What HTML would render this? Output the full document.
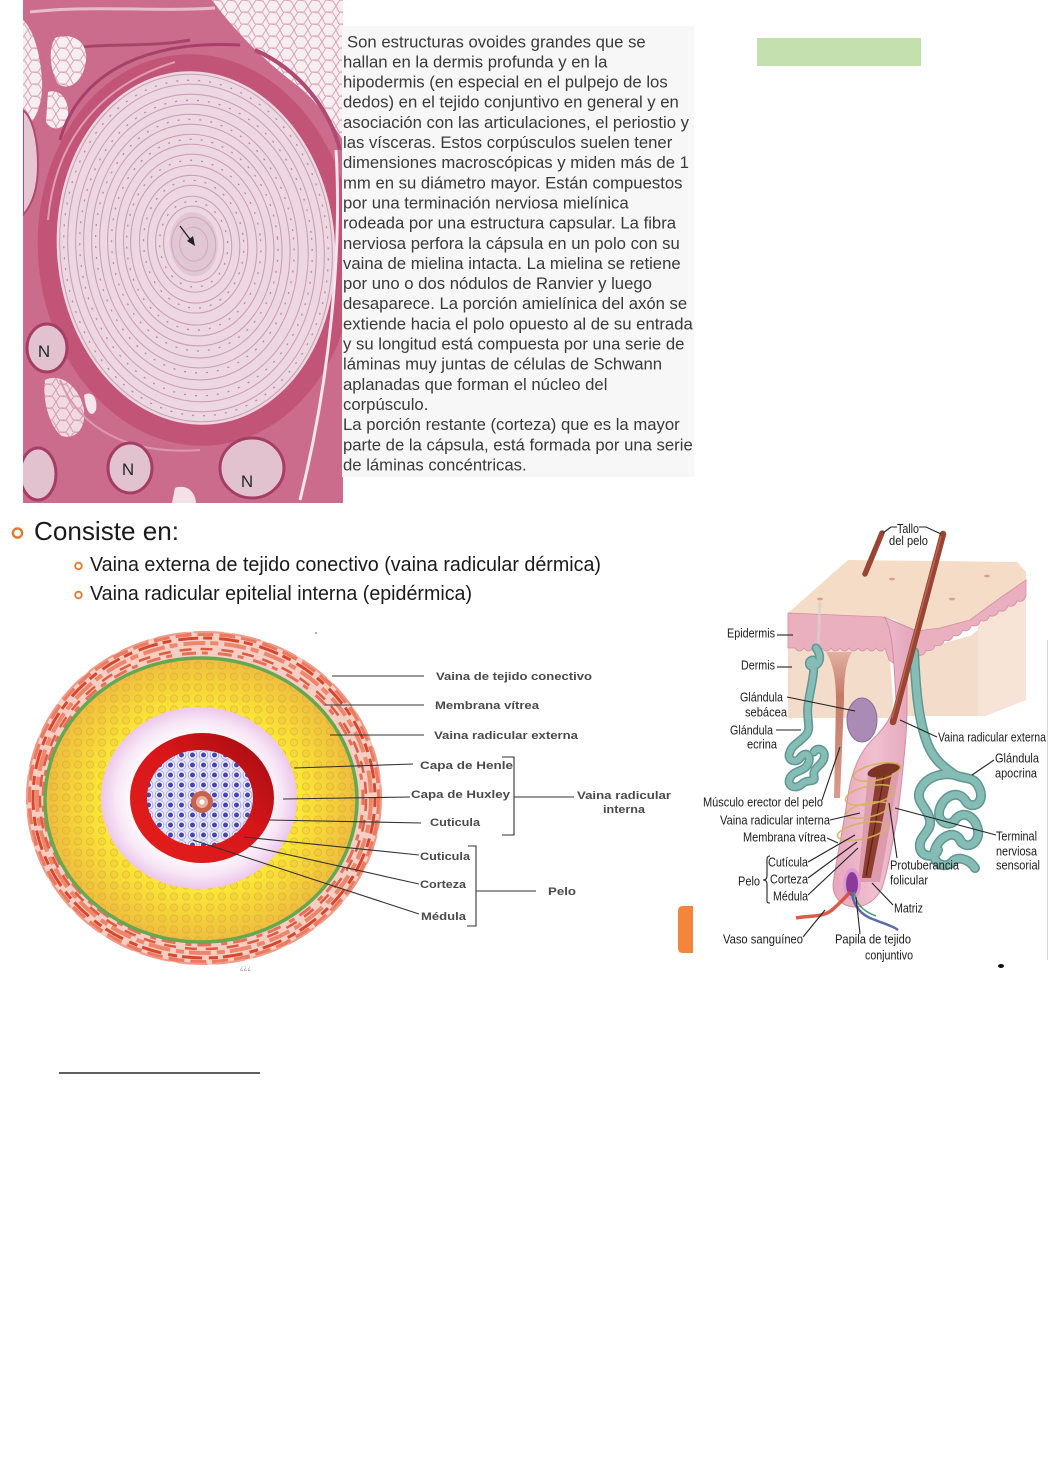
<!DOCTYPE html>
<html><head><meta charset="utf-8">
<style>
html,body{margin:0;padding:0;background:#fff;}
svg{display:block;}
text{font-family:"Liberation Sans",Arial,sans-serif;}
</style></head>
<body>
<svg width="1050" height="1463" viewBox="0 0 1050 1463" xmlns="http://www.w3.org/2000/svg">
<defs>
  <clipPath id="hc"><rect x="23" y="0" width="320" height="503"/></clipPath>
  <pattern id="fat" width="14" height="12" patternUnits="userSpaceOnUse">
    <rect width="14" height="12" fill="#f7eef2"/>
    <path d="M0,6 L4,0 M4,0 L11,1 L14,6 L10,12 L3,12 L0,6" fill="none" stroke="#dba3b6" stroke-width="1"/>
  </pattern>
  <pattern id="ydots" width="12" height="11" patternUnits="userSpaceOnUse">
    <circle cx="6" cy="5.5" r="3.6" fill="#e8b040" fill-opacity="0.22" stroke="#d8922e" stroke-width="0.8" stroke-opacity="0.45"/>
  </pattern>
  <pattern id="bdots" width="11" height="10" patternUnits="userSpaceOnUse">
    <rect width="11" height="10" fill="#e6e4f8"/>
    <circle cx="5.5" cy="5" r="4.4" fill="#f6f4ff" stroke="#9c98e0" stroke-width="0.8"/>
    <circle cx="5.5" cy="5" r="2.5" fill="#4444b8"/>
  </pattern>
  <radialGradient id="yg" cx="0.5" cy="0.5" r="0.5">
    <stop offset="0.6" stop-color="#fbec36"/>
    <stop offset="0.85" stop-color="#f3d03a"/>
    <stop offset="1" stop-color="#eebd40"/>
  </radialGradient>
  <radialGradient id="pg" cx="0.5" cy="0.5" r="0.5">
    <stop offset="0.65" stop-color="#ffffff"/>
    <stop offset="0.85" stop-color="#f8e6f6"/>
    <stop offset="1" stop-color="#ecc8ea"/>
  </radialGradient>
  <linearGradient id="rg" x1="1" y1="0" x2="0" y2="1">
    <stop offset="0" stop-color="#9e0c10"/>
    <stop offset="0.45" stop-color="#d8161a"/>
    <stop offset="1" stop-color="#e4201c"/>
  </linearGradient>
  <linearGradient id="mg" x1="0" y1="0" x2="0" y2="1">
    <stop offset="0" stop-color="#e2b0a0"/>
    <stop offset="0.3" stop-color="#c47a68"/>
    <stop offset="1" stop-color="#d89a8c"/>
  </linearGradient>
  <linearGradient id="fg" x1="0" y1="0" x2="1" y2="0">
    <stop offset="0" stop-color="#e6a6bc"/>
    <stop offset="0.5" stop-color="#f0c0d0"/>
    <stop offset="1" stop-color="#e2a2b8"/>
  </linearGradient>
</defs>

<rect width="1050" height="1463" fill="#ffffff"/>

<!-- ============ HISTOLOGY ============ -->
<g clip-path="url(#hc)">
  <rect x="23" y="0" width="320" height="503" fill="#cc6c8c"/>
  <!-- top-right fat -->
  <path d="M212,0 L343,0 L343,140 C330,120 315,100 298,86 C270,65 240,38 212,0 Z" fill="url(#fat)"/>
  <!-- top streaks -->
  <path d="M30,12 C90,5 160,12 215,8" stroke="#e8bccb" stroke-width="3" fill="none"/>
  <path d="M60,50 C100,42 150,48 190,40" stroke="#a84468" stroke-width="3" fill="none"/>
  <!-- small fat pockets top-left -->
  <path d="M55,38 C70,32 88,40 86,60 C84,80 70,92 58,84 C50,70 48,50 55,38 Z" fill="url(#fat)"/>
  <path d="M48,92 C60,88 70,100 68,118 C64,130 52,132 46,122 Z" fill="url(#fat)"/>
  <!-- left fat column -->
  <path d="M23,20 C32,28 40,50 42,80 C43,100 38,120 23,130 Z" fill="url(#fat)"/>
  <path d="M23,110 C33,118 38,140 38,165 C38,190 32,205 23,215 Z" fill="#e6c6d2" stroke="#b04a6e" stroke-width="2"/>
  <!-- lower-left fat -->
  <path d="M45,380 C62,372 80,388 84,410 C86,428 76,440 62,436 C50,428 42,400 45,380 Z" fill="url(#fat)" opacity="0.85"/>
  <path d="M84,395 C92,390 98,398 96,410 C92,418 86,414 84,395 Z" fill="#f4e6ec"/>
  <path d="M175,488 C185,484 195,490 196,503 L172,503 Z" fill="#f2e2e8"/>
  <!-- capsule band -->
  <ellipse cx="196" cy="250" rx="158" ry="196" fill="#c25478" transform="rotate(-5 196 250)"/>
  <path d="M60,140 C80,70 150,40 240,45" stroke="#a8406a" stroke-width="3" fill="none"/>
  <path d="M48,220 C55,140 100,85 175,62" stroke="#df9cb4" stroke-width="2" fill="none"/>
  <path d="M255,50 C300,70 330,110 340,150" stroke="#b04a70" stroke-width="4" fill="none"/>
  <path d="M60,380 C80,430 130,455 200,450" stroke="#dc98b0" stroke-width="2" fill="none"/>
  <!-- corpuscle -->
  <g transform="rotate(-5 196 248)">
    <ellipse cx="196" cy="248" rx="139" ry="177" fill="#edd8e2"/>
    <g fill="none" stroke="#c895b0" stroke-width="1.1" opacity="0.85">
      <ellipse cx="196" cy="248" rx="136" ry="174"/>
      <ellipse cx="196" cy="248" rx="128" ry="164"/>
      <ellipse cx="196" cy="248" rx="120" ry="154"/>
      <ellipse cx="196" cy="247" rx="112" ry="143"/>
      <ellipse cx="195" cy="247" rx="103" ry="133"/>
      <ellipse cx="195" cy="246" rx="95" ry="122"/>
      <ellipse cx="195" cy="246" rx="87" ry="112"/>
      <ellipse cx="195" cy="245" rx="79" ry="101"/>
      <ellipse cx="195" cy="245" rx="71" ry="91"/>
      <ellipse cx="194" cy="245" rx="63" ry="80"/>
      <ellipse cx="194" cy="244" rx="54" ry="69"/>
      <ellipse cx="194" cy="244" rx="46" ry="59"/>
      <ellipse cx="194" cy="244" rx="38" ry="48"/>
      <ellipse cx="194" cy="244" rx="30" ry="38"/>
      <ellipse cx="194" cy="244" rx="22" ry="27"/>
      <ellipse cx="194" cy="244" rx="14" ry="17"/>
    </g>
    <g fill="none" stroke="#8c5a78" stroke-width="1.3" stroke-dasharray="2 9" opacity="0.6">
      <ellipse cx="196" cy="248" rx="132" ry="168"/>
      <ellipse cx="196" cy="248" rx="116" ry="148"/>
      <ellipse cx="195" cy="246" rx="99" ry="127"/>
      <ellipse cx="195" cy="245" rx="83" ry="106"/>
      <ellipse cx="194" cy="245" rx="67" ry="85"/>
      <ellipse cx="194" cy="244" rx="50" ry="64"/>
      <ellipse cx="194" cy="244" rx="34" ry="43"/>
    </g>
    <ellipse cx="194" cy="244" rx="24" ry="32" fill="#d6b4c6" opacity="0.5"/>
  </g>
  <!-- right white crack -->
  <path d="M336,150 C342,250 330,380 300,500" stroke="#f4e6ec" stroke-width="3" fill="none"/>
  <!-- arrow -->
  <line x1="180" y1="226" x2="192" y2="242" stroke="#222" stroke-width="1.3"/>
  <polygon points="195,246 187,241 193,236" fill="#222"/>
  <!-- nerves -->
  <ellipse cx="47" cy="348" rx="20" ry="24" fill="#e2c2ce" stroke="#a43e66" stroke-width="3"/>
  <ellipse cx="130" cy="468" rx="22" ry="25" fill="#e2c2ce" stroke="#a43e66" stroke-width="3"/>
  <ellipse cx="252" cy="468" rx="32" ry="30" fill="#e2c2ce" stroke="#a43e66" stroke-width="3"/>
  <ellipse cx="38" cy="474" rx="18" ry="26" fill="#e2c2ce" stroke="#a43e66" stroke-width="3"/>
  <text x="44" y="357" font-size="17" fill="#1e2a2a" text-anchor="middle">N</text>
  <text x="128" y="475" font-size="17" fill="#1e2a2a" text-anchor="middle">N</text>
  <text x="247" y="487" font-size="17" fill="#1e2a2a" text-anchor="middle">N</text>
</g>

<!-- ============ PARAGRAPH ============ -->
<rect x="342" y="26" width="352" height="451" fill="#f7f7f7"/>
<g font-size="16.7" fill="#3a3a3a">
  <text x="347" y="47.3">Son estructuras ovoides grandes que se</text>
  <text x="343" y="67.4">hallan en la dermis profunda y en la</text>
  <text x="343" y="87.6">hipodermis (en especial en el pulpejo de los</text>
  <text x="343" y="107.7">dedos) en el tejido conjuntivo en general y en</text>
  <text x="343" y="127.9">asociación con las articulaciones, el periostio y</text>
  <text x="343" y="148.0">las vísceras. Estos corpúsculos suelen tener</text>
  <text x="343" y="168.2">dimensiones macroscópicas y miden más de 1</text>
  <text x="343" y="188.3">mm en su diámetro mayor. Están compuestos</text>
  <text x="343" y="208.5">por una terminación nerviosa mielínica</text>
  <text x="343" y="228.6">rodeada por una estructura capsular. La fibra</text>
  <text x="343" y="248.8">nerviosa perfora la cápsula en un polo con su</text>
  <text x="343" y="268.9">vaina de mielina intacta. La mielina se retiene</text>
  <text x="343" y="289.1">por uno o dos nódulos de Ranvier y luego</text>
  <text x="343" y="309.2">desaparece. La porción amielínica del axón se</text>
  <text x="343" y="329.4">extiende hacia el polo opuesto al de su entrada</text>
  <text x="343" y="349.5">y su longitud está compuesta por una serie de</text>
  <text x="343" y="369.7">láminas muy juntas de células de Schwann</text>
  <text x="343" y="389.8">aplanadas que forman el núcleo del</text>
  <text x="343" y="410.0">corpúsculo.</text>
  <text x="343" y="430.1">La porción restante (corteza) que es la mayor</text>
  <text x="343" y="450.3">parte de la cápsula, está formada por una serie</text>
  <text x="343" y="470.4">de láminas concéntricas.</text>
</g>

<!-- green rect -->
<rect x="757" y="38" width="164" height="28" fill="#c4e0ae"/>

<!-- ============ CONSISTE EN ============ -->
<circle cx="17.5" cy="533" r="4.6" fill="none" stroke="#e07a30" stroke-width="2.4"/>
<text x="34" y="540" font-size="26" fill="#1a1a1a" textLength="145" lengthAdjust="spacingAndGlyphs">Consiste en:</text>
<circle cx="78.5" cy="566" r="3.3" fill="none" stroke="#e07a30" stroke-width="1.8"/>
<text x="90" y="571" font-size="20.5" fill="#1a1a1a" textLength="511" lengthAdjust="spacingAndGlyphs">Vaina externa de tejido conectivo (vaina radicular dérmica)</text>
<circle cx="78.5" cy="595" r="3.3" fill="none" stroke="#e07a30" stroke-width="1.8"/>
<text x="90" y="600" font-size="20.5" fill="#1a1a1a" textLength="382" lengthAdjust="spacingAndGlyphs">Vaina radicular epitelial interna (epidérmica)</text>

<!-- ============ CROSS SECTION ============ -->
<g>
  <ellipse cx="204" cy="798" rx="178" ry="167" fill="#f6cfc4"/>
  <g fill="none">
    <ellipse cx="204" cy="798" rx="175" ry="164" stroke="#ec7a62" stroke-width="4" stroke-dasharray="16 6"/>
    <ellipse cx="204" cy="798" rx="171" ry="160" stroke="#d9462e" stroke-width="3" stroke-dasharray="9 7 20 5"/>
    <ellipse cx="204" cy="798" rx="167" ry="155" stroke="#ee866c" stroke-width="4" stroke-dasharray="22 5 8 6"/>
    <ellipse cx="203" cy="799" rx="163" ry="150" stroke="#e05a40" stroke-width="2.5" stroke-dasharray="12 9"/>
    <ellipse cx="204" cy="798" rx="177" ry="166" stroke="#f09a88" stroke-width="2" stroke-dasharray="30 8"/>
    <ellipse cx="203" cy="799" rx="160" ry="146" stroke="#e87058" stroke-width="3" stroke-dasharray="6 10 14 6"/>
  </g>
  <!-- yellow -->
  <ellipse cx="201" cy="800" rx="156" ry="142" fill="url(#yg)"/>
  <ellipse cx="201" cy="800" rx="156" ry="142" fill="url(#ydots)"/>
  <ellipse cx="201" cy="800" rx="156" ry="142" fill="none" stroke="#66a852" stroke-width="3.5"/>
  <!-- pink/white ring -->
  <ellipse cx="199" cy="798" rx="98" ry="91" fill="url(#pg)"/>
  <!-- red ring -->
  <ellipse cx="202" cy="798" rx="72" ry="65" fill="url(#rg)"/>
  <!-- blue -->
  <ellipse cx="200" cy="798" rx="53" ry="48" fill="url(#bdots)"/>
  <!-- center -->
  <circle cx="202" cy="802" r="11" fill="#c8604c"/>
  <circle cx="202" cy="802" r="6" fill="#eab0a0"/>
  <circle cx="202" cy="802" r="2.5" fill="#ffffff"/>
  <text x="240" y="970" font-size="6" fill="#777">¿¿¿</text>
  <circle cx="316" cy="633" r="1" fill="#999"/>

  <!-- leader lines -->
  <g stroke="#333" stroke-width="1.1" fill="none">
    <line x1="332" y1="676" x2="424" y2="676"/>
    <line x1="325" y1="705" x2="424" y2="705"/>
    <line x1="330" y1="735" x2="424" y2="735"/>
    <line x1="294" y1="768" x2="413" y2="764"/>
    <line x1="283" y1="799" x2="410" y2="797"/>
    <line x1="269" y1="820" x2="421" y2="823"/>
    <polyline points="502,757 514,757 514,835 502,835"/>
    <line x1="514" y1="797" x2="574" y2="797"/>
    <line x1="244" y1="837" x2="419" y2="855"/>
    <line x1="249" y1="846" x2="419" y2="884"/>
    <line x1="193" y1="840" x2="419" y2="914"/>
    <polyline points="468,846 476,846 476,926 467,926"/>
    <line x1="476" y1="891" x2="536" y2="891"/>
  </g>
  <g font-size="11" font-weight="bold" fill="#4a4a4a">
    <text x="436" y="680" textLength="156" lengthAdjust="spacingAndGlyphs">Vaina de tejido conectivo</text>
    <text x="435" y="709" textLength="104" lengthAdjust="spacingAndGlyphs">Membrana vítrea</text>
    <text x="434" y="739" textLength="144" lengthAdjust="spacingAndGlyphs">Vaina radicular externa</text>
    <text x="420" y="769" textLength="93" lengthAdjust="spacingAndGlyphs">Capa de Henle</text>
    <text x="411" y="798" textLength="99" lengthAdjust="spacingAndGlyphs">Capa de Huxley</text>
    <text x="430" y="826" textLength="50" lengthAdjust="spacingAndGlyphs">Cuticula</text>
    <text x="420" y="860" textLength="50" lengthAdjust="spacingAndGlyphs">Cuticula</text>
    <text x="420" y="888" textLength="46" lengthAdjust="spacingAndGlyphs">Corteza</text>
    <text x="421" y="920" textLength="45" lengthAdjust="spacingAndGlyphs">Médula</text>
    <text x="577" y="799" textLength="94" lengthAdjust="spacingAndGlyphs">Vaina radicular</text>
    <text x="603" y="813" textLength="42" lengthAdjust="spacingAndGlyphs">interna</text>
    <text x="548" y="895" textLength="28" lengthAdjust="spacingAndGlyphs">Pelo</text>
  </g>
</g>

<!-- orange tab -->
<path d="M683,906 L693,906 L693,953 L683,953 Q678,953 678,948 L678,911 Q678,906 683,906 Z" fill="#f5853a"/>

<!-- ============ HAIR FOLLICLE ============ -->
<g>
  <!-- dermis -->
  <path d="M788,646 L886,646 L890,660 L893,700 L892,718 L788,718 Z" fill="#f4dccb"/>
  <path d="M908,652 L940,644 L970,636 L1000,614 L1026,595 L1026,700 L985,716 L906,716 Z" fill="#f4dccb"/>
  <path d="M978,625 L1000,608 L1026,590 L1026,700 L983,716 L978,716 Z" fill="#f7e4d6"/>
  <!-- top face -->
  <path d="M788,613 L848,560 L1017,562 L1026,572 L1026,580 L1000,598 L970,620 L940,628 L917,631 L903,625 L893,619 L883,617 Z" fill="#f5dcc6"/>
  <!-- left epidermis band -->
  <path d="M788,613 L883,617 L891,624 L895,640 L896,665 L889,660 L885,648 q-4.5,6 -9,0 q-4.5,6 -9,0 q-4.5,6 -9,0 q-4.5,6 -9,0 q-4.5,6 -9,0 q-4.5,6 -9,0 q-4.5,6 -9,0 q-4.5,6 -9,0 q-4.5,6 -9,0 q-4.5,6 -9,0 L788,648 Z" fill="#eab0c0" stroke="#d48ea4" stroke-width="0.8"/>
  <!-- right epidermis band -->
  <path d="M905,628 L917,631 L940,628 L970,620 L1000,598 L1026,580 L1026,596 q-2.14,6.86 -9.08,4.92 q-2.14,6.86 -9.08,4.92 q-2.14,6.86 -9.08,4.92 q-2.14,6.86 -9.08,4.92 q-2.14,6.86 -9.08,4.92 q-2.14,6.86 -9.08,4.92 q-2.14,6.86 -9.08,4.92 q-2.14,6.86 -9.08,4.92 q-2.14,6.86 -9.08,4.92 q-2.14,6.86 -9.08,4.92 q-2.14,6.86 -9.08,4.92 q-2.14,6.86 -9.08,4.92 L910,662 L906,690 Z" fill="#eab0c0" stroke="#d48ea4" stroke-width="0.8"/>
  <!-- surface dots -->
  <g fill="#d9a090">
    <ellipse cx="892" cy="579" rx="3" ry="1.4"/>
    <ellipse cx="820" cy="599" rx="3" ry="1.4"/>
    <ellipse cx="952" cy="599" rx="3" ry="1.4"/>
    <ellipse cx="987" cy="576" rx="3" ry="1.4"/>
  </g>
  <path d="M820,602 L818,650" stroke="#d8d0d4" stroke-width="3" opacity="0.7"/>

  <!-- eccrine gland -->
  <g fill="none" stroke-linecap="round" stroke-linejoin="round">
    <path d="M816,648 C822,656 820,664 814,666 C808,668 808,660 813,660 C816,670 810,690 808,705 C806,720 812,728 806,735 C800,742 792,745 790,752 C786,760 796,764 800,758 C806,750 812,756 808,764 C804,772 794,770 790,778 C786,786 796,790 802,784 C808,778 816,784 814,776 C812,768 822,766 824,758 C826,750 818,746 814,752" stroke="#5f9892" stroke-width="9"/>
    <path d="M816,648 C822,656 820,664 814,666 C808,668 808,660 813,660 C816,670 810,690 808,705 C806,720 812,728 806,735 C800,742 792,745 790,752 C786,760 796,764 800,758 C806,750 812,756 808,764 C804,772 794,770 790,778 C786,786 796,790 802,784 C808,778 816,784 814,776 C812,768 822,766 824,758 C826,750 818,746 814,752" stroke="#86bcb6" stroke-width="6"/>
  </g>
  <!-- apocrine gland -->
  <g fill="none" stroke-linecap="round" stroke-linejoin="round">
    <g stroke="#5f9892" stroke-width="10">
      <path d="M914,652 C916,690 918,720 928,745 C934,760 945,768 955,775 C965,780 975,775 980,790 C985,805 970,810 965,800 C958,790 945,795 940,808 C935,822 950,828 955,820 C962,810 975,815 978,830 C980,845 965,850 960,840 C955,830 940,835 935,850 C930,862 945,870 952,862 C958,855 970,860 975,868"/>
      <path d="M955,775 C940,772 925,778 920,790 C915,802 928,808 930,820 C932,832 918,836 920,848 C922,858 935,858 938,850"/>
    </g>
    <g stroke="#86bcb6" stroke-width="7">
      <path d="M914,652 C916,690 918,720 928,745 C934,760 945,768 955,775 C965,780 975,775 980,790 C985,805 970,810 965,800 C958,790 945,795 940,808 C935,822 950,828 955,820 C962,810 975,815 978,830 C980,845 965,850 960,840 C955,830 940,835 935,850 C930,862 945,870 952,862 C958,855 970,860 975,868"/>
      <path d="M955,775 C940,772 925,778 920,790 C915,802 928,808 930,820 C932,832 918,836 920,848 C922,858 935,858 938,850"/>
    </g>
  </g>

  <!-- muscle -->
  <path d="M826,652 C832,662 836,675 836,700 L834,798 L840,798 L844,700 C844,675 846,662 852,652 Z" fill="url(#mg)"/>
  <!-- sebaceous gland -->
  <ellipse cx="862" cy="720" rx="15" ry="22" fill="#a98bb5" stroke="#8c6c9a" stroke-width="1"/>

  <!-- follicle -->
  <path d="M884,617 C892,625 894,660 896,700 C893,715 885,728 872,740 C860,752 852,770 848,795 C843,830 836,860 833,885 C833,898 842,906 854,907 C866,907 876,900 882,888 C888,870 892,845 897,820 C901,790 904,760 906,735 C908,705 906,680 908,660 C910,645 912,635 917,631 Z" fill="url(#fg)" stroke="#d28ca6" stroke-width="1"/>
  <!-- long hair shaft -->
  <line x1="943" y1="534" x2="893" y2="722" stroke="#9a4434" stroke-width="6.5" stroke-linecap="round"/>
  <line x1="941" y1="536" x2="892" y2="718" stroke="#bb6652" stroke-width="1.5"/>
  <!-- short hair shaft -->
  <line x1="882" y1="533" x2="865" y2="574" stroke="#9a4434" stroke-width="5.5" stroke-linecap="round"/>
  <!-- cut opening -->
  <path d="M868,773 L900,767 L880,882 L858,882 Z" fill="#dc9cae"/>
  <path d="M877,771 L893,768 L871,878 L862,878 Z" fill="#8e3e2e"/>
  <line x1="885" y1="770" x2="866" y2="876" stroke="#5a2018" stroke-width="1.2"/>
  <ellipse cx="884" cy="770" rx="17" ry="6" fill="#7c3424" transform="rotate(-15 884 770)"/>
  <!-- papilla -->
  <ellipse cx="852" cy="884" rx="9" ry="16" fill="#e09ad0"/>
  <ellipse cx="852" cy="884" rx="6" ry="12" fill="#8a3a9a"/>
  <!-- nerve rings -->
  <g fill="none" stroke="#d6b45c" stroke-width="1.6" opacity="0.9">
    <ellipse cx="877" cy="772" rx="24" ry="8" transform="rotate(-12 877 772)"/>
    <ellipse cx="870" cy="795" rx="25" ry="9" transform="rotate(-12 870 795)"/>
    <ellipse cx="868" cy="810" rx="22" ry="7" transform="rotate(-12 868 810)"/>
    <ellipse cx="862" cy="831" rx="25" ry="8" transform="rotate(-12 862 831)"/>
  </g>
  <!-- vessels -->
  <path d="M796,918 C810,915 822,918 832,910 C840,903 845,898 850,892" stroke="#d84a38" stroke-width="3.5" fill="none" opacity="0.9"/>
  <path d="M852,892 C853,905 860,915 875,920 C885,924 893,926 898,930" stroke="#5a6aa8" stroke-width="2.5" fill="none"/>
  <path d="M854,892 C856,903 862,911 876,916" stroke="#4a9a70" stroke-width="1.5" fill="none"/>

  <!-- leader lines -->
  <g stroke="#222" stroke-width="1.1" fill="none">
    <polyline points="897,527 891,527 883,533"/>
    <polyline points="919,527 926,527 941,534"/>
    <line x1="777" y1="635" x2="793" y2="635"/>
    <line x1="777" y1="667" x2="792" y2="667"/>
    <line x1="787" y1="697" x2="855" y2="711"/>
    <line x1="776" y1="730" x2="801" y2="730"/>
    <line x1="822" y1="800" x2="840" y2="747"/>
    <line x1="830" y1="820" x2="860" y2="813"/>
    <line x1="827" y1="838" x2="838" y2="843"/>
    <line x1="808" y1="862" x2="855" y2="835"/>
    <line x1="808" y1="878" x2="857" y2="842"/>
    <line x1="808" y1="895" x2="858" y2="848"/>
    <line x1="803" y1="937" x2="825" y2="910"/>
    <line x1="860" y1="934" x2="856" y2="897"/>
    <line x1="893" y1="905" x2="872" y2="883"/>
    <line x1="897" y1="858" x2="889" y2="803"/>
    <line x1="996" y1="835" x2="895" y2="808"/>
    <line x1="994" y1="760" x2="972" y2="775"/>
    <line x1="937" y1="737" x2="900" y2="720"/>
    <path d="M770,856 C766,856 767,860 767,866 L767,876 C767,879 765,880 763,880 C765,880 767,881 767,884 L767,896 C767,901 766,903 770,903"/>
  </g>
  <g font-size="12.5" fill="#1c1c1c">
    <text x="897" y="533" textLength="22" lengthAdjust="spacingAndGlyphs">Tallo</text>
    <text x="889" y="545" textLength="39" lengthAdjust="spacingAndGlyphs">del pelo</text>
    <text x="727" y="637.5" textLength="48" lengthAdjust="spacingAndGlyphs">Epidermis</text>
    <text x="741" y="669.5" textLength="34" lengthAdjust="spacingAndGlyphs">Dermis</text>
    <text x="740" y="701.5" textLength="43" lengthAdjust="spacingAndGlyphs">Glándula</text>
    <text x="745" y="716.5" textLength="42" lengthAdjust="spacingAndGlyphs">sebácea</text>
    <text x="730" y="734.5" textLength="43" lengthAdjust="spacingAndGlyphs">Glándula</text>
    <text x="747" y="748.5" textLength="30" lengthAdjust="spacingAndGlyphs">ecrina</text>
    <text x="703" y="806.5" textLength="120" lengthAdjust="spacingAndGlyphs">Músculo erector del pelo</text>
    <text x="720" y="824.5" textLength="110" lengthAdjust="spacingAndGlyphs">Vaina radicular interna</text>
    <text x="743" y="841.5" textLength="83" lengthAdjust="spacingAndGlyphs">Membrana vítrea</text>
    <text x="768" y="866.5" textLength="40" lengthAdjust="spacingAndGlyphs">Cutícula</text>
    <text x="738" y="885.5" textLength="22" lengthAdjust="spacingAndGlyphs">Pelo</text>
    <text x="770" y="883.5" textLength="38" lengthAdjust="spacingAndGlyphs">Corteza</text>
    <text x="773" y="900.5" textLength="35" lengthAdjust="spacingAndGlyphs">Médula</text>
    <text x="723" y="943.5" textLength="80" lengthAdjust="spacingAndGlyphs">Vaso sanguíneo</text>
    <text x="835" y="943.5" textLength="76" lengthAdjust="spacingAndGlyphs">Papila de tejido</text>
    <text x="865" y="959.5" textLength="48" lengthAdjust="spacingAndGlyphs">conjuntivo</text>
    <text x="894" y="912.5" textLength="29" lengthAdjust="spacingAndGlyphs">Matriz</text>
    <text x="890" y="869.5" textLength="69" lengthAdjust="spacingAndGlyphs">Protuberancia</text>
    <text x="890" y="884.5" textLength="38" lengthAdjust="spacingAndGlyphs">folicular</text>
    <text x="996" y="840.5" textLength="41" lengthAdjust="spacingAndGlyphs">Terminal</text>
    <text x="996" y="855.5" textLength="41" lengthAdjust="spacingAndGlyphs">nerviosa</text>
    <text x="996" y="869.5" textLength="44" lengthAdjust="spacingAndGlyphs">sensorial</text>
    <text x="995" y="762.5" textLength="44" lengthAdjust="spacingAndGlyphs">Glándula</text>
    <text x="995" y="777.5" textLength="42" lengthAdjust="spacingAndGlyphs">apocrina</text>
    <text x="938" y="741.5" textLength="108" lengthAdjust="spacingAndGlyphs">Vaina radicular externa</text>
  </g>
  <ellipse cx="1001" cy="966" rx="3" ry="2" fill="#111"/>
  <line x1="1047.5" y1="640" x2="1047.5" y2="960" stroke="#d6d6d6" stroke-width="1"/>
</g>

<!-- footnote rule -->
<line x1="59" y1="1073" x2="260" y2="1073" stroke="#000" stroke-width="1.3"/>
</svg>
</body>
</html>
